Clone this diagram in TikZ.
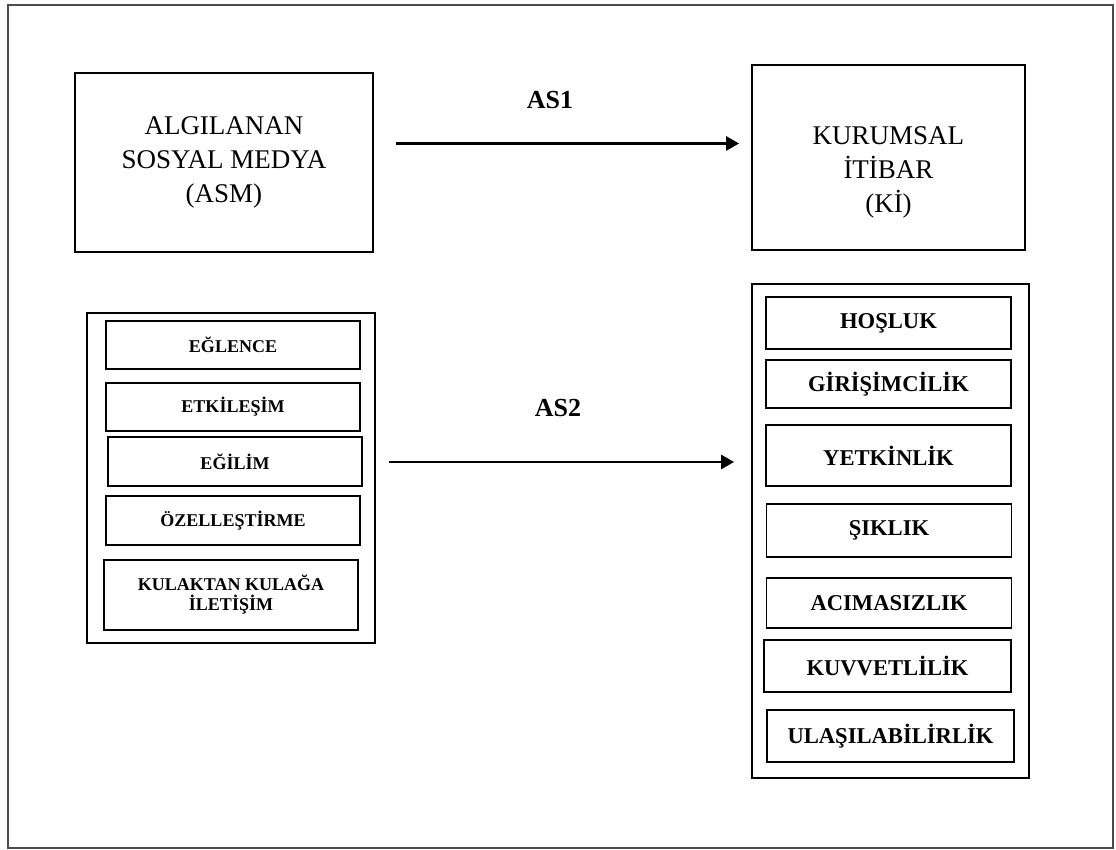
\documentclass[tikz,border=0pt]{standalone}
\usepackage{fontspec}
\setmainfont{Liberation Serif}
\usepackage{tikz}
\usetikzlibrary{
  arrows.meta,
  positioning,
  calc
}

\begin{document}
\begin{tikzpicture}[x=0.5pt, y=-0.5pt,
    bigbox/.style={draw, line width=0.9pt, inner sep=0pt},
    groupbox/.style={draw, line width=0.9pt, inner sep=0pt},
    lbox/.style={draw, line width=0.9pt, inner sep=0pt, minimum width=127pt,
                 align=center, font=\fontsize{9}{10}\selectfont\bfseries},
    rbox/.style={draw, line width=0.9pt, inner sep=0pt, minimum width=122.5pt,
                 font=\fontsize{11.3}{13}\selectfont\bfseries},
    bigtext/.style={align=center, font=\fontsize{13.5}{17}\selectfont},
    pathlabel/.style={font=\fontsize{13}{15}\selectfont\bfseries},
    arr/.style={line width=1.4pt, -{Triangle[length=6.5pt,width=7pt]}}]
  \useasboundingbox (0,0) rectangle (1116,850);

  % Outer frame
  \draw[black!70, line width=0.6pt] (8,5) rectangle (1113,848);

  % Main constructs
  \node[bigbox, minimum width=149pt, minimum height=89.5pt, bigtext] (asm) at (224,162.5)
    {ALGILANAN\\SOSYAL MEDYA\\(ASM)};
  \node[bigbox, minimum width=136.5pt, minimum height=92.5pt] (ki) at (888.5,157.5) {};
  \node[bigtext] (kitext) at (888.5,172) {KURUMSAL\\İTİBAR\\(Kİ)};

  % Dimension groups
  \node[groupbox, minimum width=144pt, minimum height=165pt] (asmgroup) at (231,478) {};
  \node[groupbox, minimum width=138.5pt, minimum height=247pt] (kigroup) at (890.5,531) {};

  % Social media dimensions
  \node[lbox, minimum height=24pt] (eglence) at (233,345) {EĞLENCE};
  \node[lbox, minimum height=24pt] (etkilesim) at (233,407) {ETKİLEŞİM};
  \node[lbox, minimum height=24.5pt] (egilim) at (235,461.5) {EĞİLİM};
  \node[lbox, minimum height=24.5pt] (ozel) at (233,520.5) {ÖZELLEŞTİRME};
  \node[lbox, minimum height=35pt] (kulak) at (231,595) {KULAKTAN KULAĞA\\İLETİŞİM};

  % Reputation dimensions
  \node[rbox, minimum height=26pt] (hosluk) at (888.5,323) {HOŞLUK};
  \node[rbox, minimum height=24pt] (girisim) at (888.5,384) {GİRİŞİMCİLİK};
  \node[rbox, minimum height=30.5pt] (yetkin) at (888.5,455.5) {YETKİNLİK};
  \node[rbox, minimum height=26.5pt] (siklik) at (889,530.5) {ŞIKLIK};
  \node[rbox, minimum height=25pt] (acimasiz) at (889,603) {ACIMASIZLIK};
  \node[rbox, minimum height=26pt, minimum width=123.5pt] (kuvvet) at (887.5,666) {KUVVETLİLİK};
  \node[rbox, minimum height=26pt, minimum width=123.5pt] (ulasil) at (890.5,736) {ULAŞILABİLİRLİK};

  % Hypotheses
  \draw[arr] ([shift={(11pt,9.5pt)}]asm.east) coordinate (as1start)
    -- ([xshift=-6pt]ki.west |- as1start);
  \draw[arr] ([shift={(6.5pt,8pt)}]asmgroup.east) coordinate (as2start)
    -- ([xshift=-8.5pt]kigroup.west |- as2start);
  \node[pathlabel] (as1) at (550,100) {AS1};
  \node[pathlabel] (as2) at (558,408) {AS2};
\end{tikzpicture}
\end{document}
